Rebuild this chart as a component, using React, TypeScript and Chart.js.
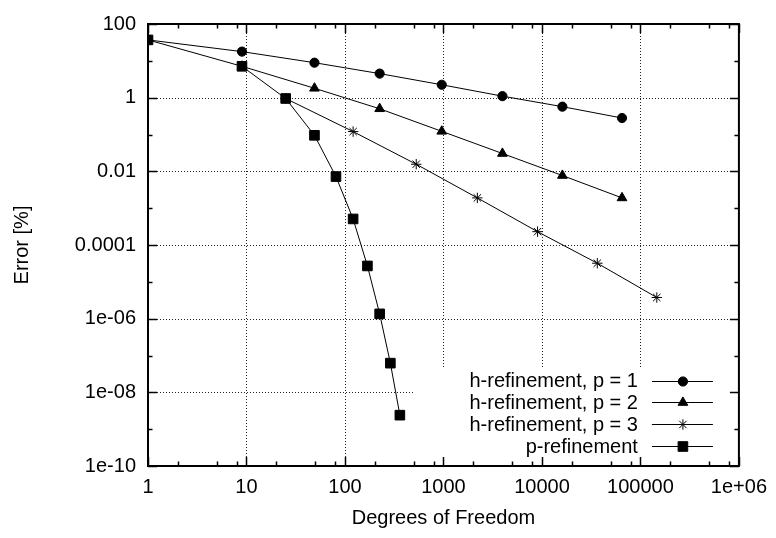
import React, { useEffect, useRef } from 'react';
import { Chart, registerables } from 'chart.js';
import { drawPoint } from 'chart.js/helpers';

Chart.register(...registerables);

// ---- data ----
const h1Dof = [1, 9, 49, 225, 961, 3969, 16129, 65025];
const h1Err = [37, 17.8, 8.9, 4.5, 2.24, 1.1, 0.57, 0.28];

const h2Dof = [9, 49, 225, 961, 3969, 16129, 65025];
const h2Err = [7.1, 1.8, 0.5, 0.122, 0.0305, 0.0077, 0.0019];

const h3Dof = [25, 121, 529, 2209, 9025, 36481, 146689];
const h3Err = [0.95, 0.12, 0.0156, 0.0019, 0.00023, 0.000032, 0.00000375];

const pDof = [1, 9, 25, 49, 81, 121, 169, 225, 289, 361];
const pErr = [37, 7.1, 0.95, 0.095, 0.0072, 0.00051, 0.000027, 0.00000135, 0.000000062, 0.0000000024];

const seriesLabels = ['h-refinement, p = 1', 'h-refinement, p = 2', 'h-refinement, p = 3', 'p-refinement'];

const xTickValues = [1, 10, 100, 1000, 10000, 100000, 1000000];
const xTickLabels = ['1', '10', '100', '1000', '10000', '100000', '1e+06'];
const yTickValues = [1e-10, 1e-8, 1e-6, 1e-4, 1e-2, 1, 100];
const yTickLabels = ['1e-10', '1e-08', '1e-06', '0.0001', '0.01', '1', '100'];
const yMinorValues = [1e-9, 1e-7, 1e-5, 1e-3, 1e-1, 10];
const xMinorMultipliers = [2, 5, 8];

const FONT = "'Liberation Sans', Arial, Helvetica, sans-serif";

const pointStyles = ['circle', 'triangle', 'star', 'rect'];
const pointRadii = [4.6, 5.6, 5.2, 6.8];

const toXY = (xs: number[], ys: number[]) => xs.map((x, i) => ({ x, y: ys[i] }));

const gnuplotPlugin = {
  id: 'gnuplotDecor',
  beforeDatasetsDraw(chart: any) {
    const { ctx, chartArea, scales } = chart;
    const { left, right, top, bottom } = chartArea;
    ctx.save();
    // dotted grid
    ctx.strokeStyle = '#222';
    ctx.lineWidth = 1;
    ctx.setLineDash([1, 2]);
    ctx.beginPath();
    xTickValues.slice(1, -1).forEach((v) => {
      const px = Math.round(scales.x.getPixelForValue(v)) + 0.5;
      ctx.moveTo(px, top);
      ctx.lineTo(px, bottom);
    });
    yTickValues.slice(1, -1).forEach((v) => {
      const py = Math.round(scales.y.getPixelForValue(v)) + 0.5;
      ctx.moveTo(left, py);
      ctx.lineTo(right, py);
    });
    ctx.stroke();
    ctx.setLineDash([]);
    // legend background
    ctx.fillStyle = '#ffffff';
    ctx.fillRect(right - 324, bottom - 97, 324, 97);
    ctx.restore();
  },
  afterDatasetsDraw(chart: any) {
    const { ctx, chartArea } = chart;
    const { right, bottom } = chartArea;
    const rows = [bottom - 85.5, bottom - 63.7, bottom - 42, bottom - 20];
    ctx.save();
    ctx.font = `20px ${FONT}`;
    ctx.textAlign = 'right';
    ctx.textBaseline = 'middle';
    seriesLabels.forEach((label, i) => {
      const y = rows[i];
      ctx.fillStyle = '#000';
      ctx.fillText(label, right - 101, y + 1);
      ctx.beginPath();
      ctx.strokeStyle = '#000';
      ctx.lineWidth = 1;
      ctx.moveTo(right - 87, Math.round(y) + 0.5);
      ctx.lineTo(right - 26, Math.round(y) + 0.5);
      ctx.stroke();
      ctx.fillStyle = '#000';
      drawPoint(ctx, { pointStyle: pointStyles[i], radius: pointRadii[i], borderWidth: 1, rotation: 0 } as any, right - 56, Math.round(y) + 0.5);
    });
    ctx.restore();
  },
  afterDraw(chart: any) {
    const { ctx, chartArea, scales } = chart;
    const { left, right, top, bottom } = chartArea;
    const xs = scales.x;
    const ys = scales.y;
    ctx.save();
    ctx.strokeStyle = '#000';
    ctx.lineWidth = 1.5;
    ctx.beginPath();
    xTickValues.forEach((v) => {
      const px = Math.round(xs.getPixelForValue(v)) + 0.5;
      ctx.moveTo(px, bottom);
      ctx.lineTo(px, bottom - 9);
      ctx.moveTo(px, top);
      ctx.lineTo(px, top + 9);
    });
    xTickValues.slice(0, -1).forEach((d) => {
      xMinorMultipliers.forEach((m) => {
        const px = Math.round(xs.getPixelForValue(d * m)) + 0.5;
        ctx.moveTo(px, bottom);
        ctx.lineTo(px, bottom - 4.5);
        ctx.moveTo(px, top);
        ctx.lineTo(px, top + 4.5);
      });
    });
    yTickValues.forEach((v) => {
      const py = Math.round(ys.getPixelForValue(v)) + 0.5;
      ctx.moveTo(left, py);
      ctx.lineTo(left + 9, py);
      ctx.moveTo(right, py);
      ctx.lineTo(right - 9, py);
    });
    yMinorValues.forEach((v) => {
      const py = Math.round(ys.getPixelForValue(v)) + 0.5;
      ctx.moveTo(left, py);
      ctx.lineTo(left + 4.5, py);
      ctx.moveTo(right, py);
      ctx.lineTo(right - 4.5, py);
    });
    ctx.stroke();
    ctx.lineWidth = 2;
    ctx.strokeRect(left, top, right - left, bottom - top);
    ctx.restore();
  },
};

export default function App() {
  const canvasRef = useRef<HTMLCanvasElement | null>(null);

  useEffect(() => {
    const canvas = canvasRef.current;
    if (!canvas) return;
    const common = {
      borderColor: '#000',
      backgroundColor: '#000',
      pointBorderColor: '#000',
      pointBackgroundColor: '#000',
      borderWidth: 1,
      pointBorderWidth: 1,
      showLine: true,
      fill: false,
      tension: 0,
    };
    const chart = new Chart(canvas, {
      type: 'scatter',
      data: {
        datasets: [
          { ...common, label: seriesLabels[0], data: toXY(h1Dof, h1Err), pointStyle: 'circle', pointRadius: pointRadii[0], order: 1 },
          { ...common, label: seriesLabels[1], data: toXY(h2Dof, h2Err), pointStyle: 'triangle', pointRadius: pointRadii[1], order: 2 },
          { ...common, label: seriesLabels[2], data: toXY(h3Dof, h3Err), pointStyle: 'star', pointRadius: pointRadii[2], order: 3 },
          { ...common, label: seriesLabels[3], data: toXY(pDof, pErr), pointStyle: 'rect', pointRadius: pointRadii[3], order: 0 },
        ],
      },
      options: {
        responsive: false,
        animation: false,
        events: [],
        layout: { padding: { top: 13, right: 37, left: 0, bottom: 0 } },
        plugins: {
          legend: { display: false },
          tooltip: { enabled: false },
        },
        scales: {
          x: {
            type: 'logarithmic',
            min: 1,
            max: 1000000,
            afterBuildTicks: (scale: any) => {
              scale.ticks = xTickValues.map((v) => ({ value: v }));
            },
            afterFit: (scale: any) => {
              scale.height = 72;
            },
            ticks: {
              autoSkip: false,
              maxRotation: 0,
              minRotation: 0,
              padding: 9,
              color: '#000',
              font: { family: FONT, size: 20 },
              callback: (_v: any, i: number) => xTickLabels[i],
            },
            grid: { display: false, drawTicks: false },
            border: { display: false },
            title: {
              display: true,
              text: 'Degrees of Freedom',
              color: '#000',
              font: { family: FONT, size: 20 },
              padding: { top: 0, bottom: 8 },
            },
          },
          y: {
            type: 'logarithmic',
            min: 1e-10,
            max: 100,
            afterBuildTicks: (scale: any) => {
              scale.ticks = yTickValues.map((v) => ({ value: v }));
            },
            afterFit: (scale: any) => {
              scale.width = 148;
            },
            ticks: {
              autoSkip: false,
              padding: 12,
              color: '#000',
              font: { family: FONT, size: 20 },
              callback: (_v: any, i: number) => yTickLabels[i],
            },
            grid: { display: false, drawTicks: false },
            border: { display: false },
            title: {
              display: true,
              text: 'Error [%]',
              color: '#000',
              font: { family: FONT, size: 20 },
              padding: { top: 10, bottom: 0 },
            },
          },
        },
      } as any,
      plugins: [gnuplotPlugin],
    });
    return () => chart.destroy();
  }, []);

  return (
    <div style={{ position: 'absolute', left: 0, top: 0, width: 776, height: 538, background: '#fff' }}>
      <canvas ref={canvasRef} width={776} height={538} style={{ display: 'block' }} />
    </div>
  );
}
